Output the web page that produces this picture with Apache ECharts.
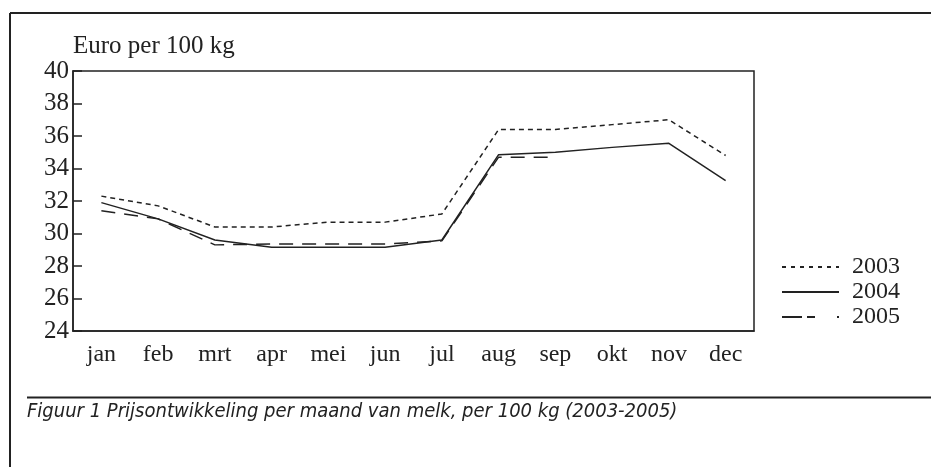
<!DOCTYPE html>
<html>
<head>
<meta charset="utf-8">
<script src="https://cdn.jsdelivr.net/npm/echarts@6/dist/echarts.min.js"></script>
<style>
  html, body { margin: 0; padding: 0; background: #fff; }
  #chart { width: 931px; height: 467px; }
</style>
</head>
<body>
<div id="chart"></div>
<script>
const months = ['jan', 'feb', 'mrt', 'apr', 'mei', 'jun', 'jul', 'aug', 'sep', 'okt', 'nov', 'dec'];
const prices2003 = [32.3, 31.7, 30.4, 30.4, 30.7, 30.7, 31.2, 36.4, 36.4, 36.7, 37.0, 34.8];
const prices2004 = [31.9, 30.9, 29.6, 29.15, 29.15, 29.15, 29.6, 34.85, 35.0, 35.3, 35.55, 33.25];
const prices2005 = [31.4, 30.9, 29.3, 29.35, 29.35, 29.35, 29.55, 34.7, 34.7, null, null, null];
const yTicks = {min: 24, max: 40, step: 2};
const yAxisTitle = 'Euro per 100 kg';
const caption = 'Figuur 1 Prijsontwikkeling per maand van melk, per 100 kg (2003-2005)';

const ink = '#222';
const serif = '"Liberation Serif", "DejaVu Serif", serif';

const chart = echarts.init(document.getElementById('chart'), null, {renderer: 'canvas'});

const lineSeries = (name, data, type) => ({
  name: name,
  type: 'line',
  data: data,
  symbol: 'none',
  connectNulls: false,
  lineStyle: {color: ink, width: 1.5, type: type},
  itemStyle: {color: ink},
});

const option = {
  animation: false,
  grid: {
    left: 73,
    right: 177,
    top: 71,
    bottom: 136,
    show: true,
    borderColor: ink,
    borderWidth: 1.5,
    backgroundColor: 'transparent',
  },
  xAxis: {
    type: 'category',
    data: months,
    boundaryGap: true,
    axisLine: {lineStyle: {color: ink, width: 1.5}},
    axisTick: {inside: true, length: 6, lineStyle: {color: ink, width: 1.5}},
    axisLabel: {color: ink, fontFamily: serif, fontSize: 24, margin: 12},
    splitLine: {show: false},
  },
  yAxis: {
    type: 'value',
    min: yTicks.min,
    max: yTicks.max,
    interval: yTicks.step,
    name: yAxisTitle,
    nameLocation: 'end',
    nameGap: 12,
    nameTextStyle: {color: ink, fontFamily: serif, fontSize: 25, align: 'left'},
    axisLine: {show: true, lineStyle: {color: ink, width: 1.5}},
    axisTick: {show: true, inside: true, length: 9, lineStyle: {color: ink, width: 1.5}},
    axisLabel: {color: ink, fontFamily: serif, fontSize: 25, margin: 4},
    splitLine: {show: false},
  },
  legend: {
    orient: 'vertical',
    left: 776,
    top: 250,
    itemWidth: 57,
    itemHeight: 14,
    itemGap: 1,
    itemStyle: {opacity: 0},
    textStyle: {color: ink, fontFamily: serif, fontSize: 24, lineHeight: 24, padding: [0, 0, 0, 8]},
    data: [
      {name: '2003', lineStyle: {type: [4, 5]}},
      {name: '2004'},
      {name: '2005', lineStyle: {type: [20, 5, 8, 22, 2, 100]}},
    ],
  },
  series: [
    lineSeries('2003', prices2003, [5, 4]),
    lineSeries('2004', prices2004, 'solid'),
    lineSeries('2005', prices2005, [14, 9]),
  ],
  graphic: [
    {type: 'line', shape: {x1: 10, y1: 13, x2: 931, y2: 13}, style: {stroke: ink, lineWidth: 2}},
    {type: 'line', shape: {x1: 10, y1: 13, x2: 10, y2: 467}, style: {stroke: ink, lineWidth: 2}},
    {type: 'line', shape: {x1: 27, y1: 397.5, x2: 931, y2: 397.5}, style: {stroke: ink, lineWidth: 2}},
    {
      type: 'text',
      left: 27,
      top: 402,
      style: {
        text: caption,
        fill: ink,
        font: 'italic 20px "Liberation Sans Narrow", "DejaVu Sans Condensed", sans-serif',
      },
    },
  ],
};

chart.setOption(option);
</script>
</body>
</html>
